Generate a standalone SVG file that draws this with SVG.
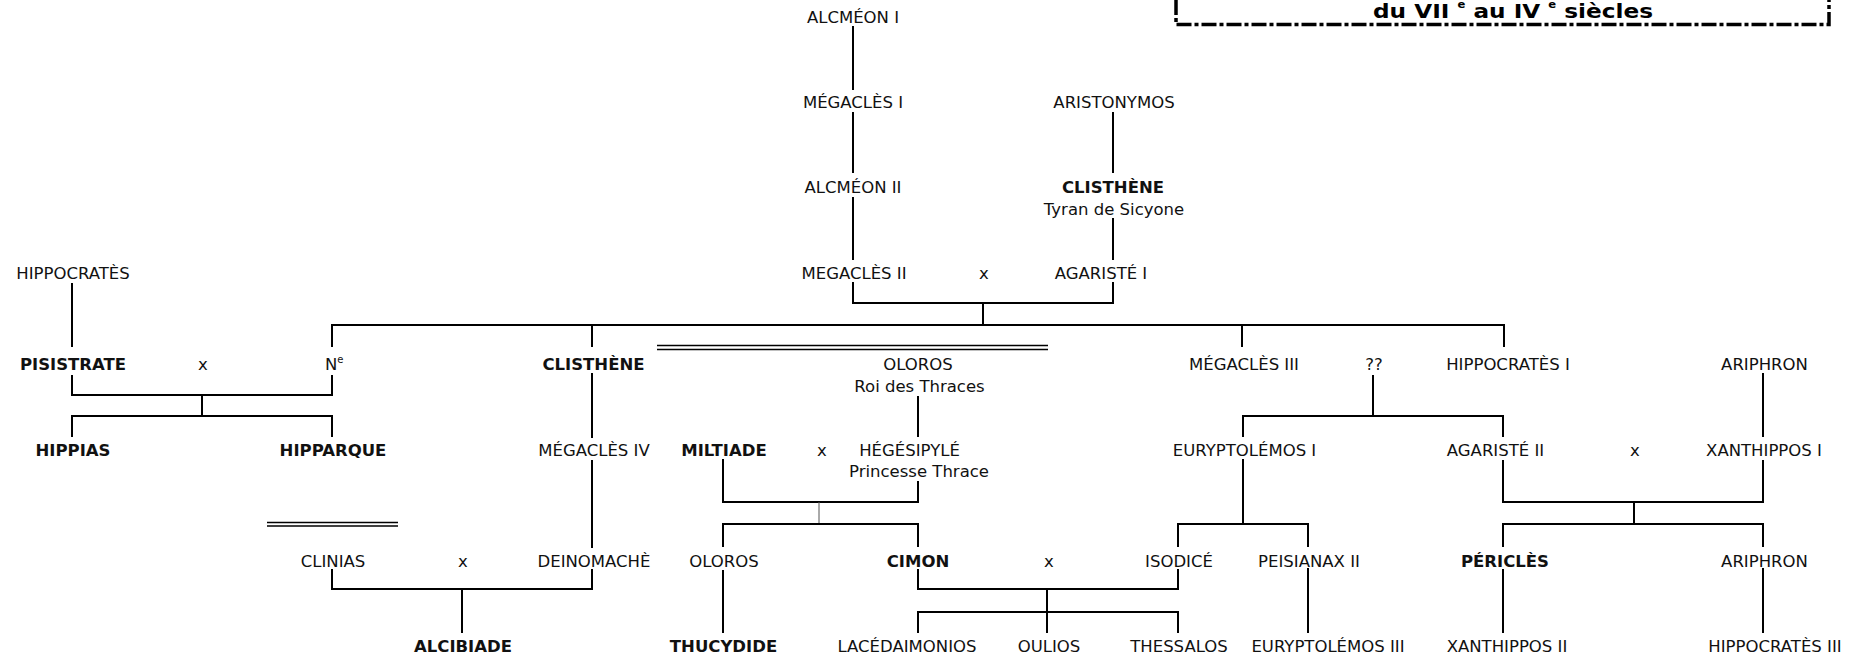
<svg xmlns="http://www.w3.org/2000/svg" width="1866" height="657" viewBox="0 0 1866 657">
<style>
text{font-family:"DejaVu Sans",Verdana,"Liberation Sans",sans-serif;font-size:16.5px;fill:#111;text-anchor:middle}
.b{font-weight:bold}
.t{font-weight:bold;font-size:20px;text-anchor:start;fill:#000}
.s{text-anchor:start}
.c path{fill:none;stroke:#000;stroke-width:2;stroke-linejoin:miter}
.c path.thin{stroke:#555;stroke-width:1}
.c path.dbl{stroke-width:1.5}
</style>
<rect width="1866" height="657" fill="#fff"/>
<g id="title">
<rect x="1176" y="-60" width="653" height="84.5" fill="none" stroke="#000" stroke-width="3.5" stroke-dasharray="15 3 4 3"/>
<text class="t" x="1373" y="17.5" textLength="280" lengthAdjust="spacingAndGlyphs">du VII <tspan dy="-9.5" font-size="10">e</tspan><tspan dy="9.5"> au IV </tspan><tspan dy="-9.5" font-size="10">e</tspan><tspan dy="9.5"> siècles</tspan></text>
</g>
<g class="c" id="connectors">
<path d="M853,26V90"/>
<path d="M853,112V173"/>
<path d="M853,197V260"/>
<path d="M853,282V303H1113V282"/>
<path d="M1113,112V173"/>
<path d="M1113,218V260"/>
<path d="M983,303V325"/>
<path d="M332,347V325H1504V347"/>
<path d="M592,325V347"/>
<path d="M1242,325V347"/>
<path d="M72,283V347"/>
<path d="M72,375V395H332V375"/>
<path d="M202,395V416"/>
<path d="M72,437V416H332V437"/>
<path d="M592,373V438"/>
<path d="M592,460V548"/>
<path d="M918,396V437"/>
<path d="M723,459V502H918V481"/>
<path class="thin" d="M819,502V524"/>
<path d="M723,547V524H918V547"/>
<path d="M1373,375V416"/>
<path d="M1243,437V416H1503V437"/>
<path d="M1763,373V437"/>
<path d="M1243,459V524"/>
<path d="M1178,547V524H1308V547"/>
<path d="M1503,460V502H1763V460"/>
<path d="M1634,502V524"/>
<path d="M1503,547V524H1763V547"/>
<path d="M332,569V589H592V569"/>
<path d="M462,589V633"/>
<path d="M723,570V633"/>
<path d="M918,569V589H1178V569"/>
<path d="M1047,589V633"/>
<path d="M918,633V612H1178V633"/>
<path d="M1308,568V633"/>
<path d="M1503,569V633"/>
<path d="M1763,568V633"/>
<path class="dbl" d="M657,345.5H1048M657,349.5H1048"/>
<path class="dbl" d="M267,522.5H398M267,526H398"/>
</g>
<g id="alcmeon1"><text x="853" y="23">ALCMÉON I</text></g>
<g id="megacles1"><text x="853" y="108">MÉGACLÈS I</text></g>
<g id="aristonymos"><text x="1114" y="108">ARISTONYMOS</text></g>
<g id="alcmeon2"><text x="853" y="193">ALCMÉON II</text></g>
<g id="clisthene-sicyone"><text class="b" x="1113" y="193">CLISTHÈNE</text><text x="1114" y="215">Tyran de Sicyone</text></g>
<g id="hippocrates"><text x="73" y="279">HIPPOCRATÈS</text></g>
<g id="megacles2"><text x="854" y="279">MEGACLÈS II</text></g>
<g id="x1"><text x="984" y="279">x</text></g>
<g id="agariste1"><text x="1101" y="279">AGARISTÉ I</text></g>
<g id="pisistrate"><text class="b" x="73" y="370">PISISTRATE</text></g>
<g id="x2"><text x="203" y="370">x</text></g>
<g id="ne"><text class="s" x="325" y="370">N<tspan dy="-7" font-size="10">e</tspan></text></g>
<g id="clisthene"><text class="b" x="593.5" y="370">CLISTHÈNE</text></g>
<g id="oloros1"><text x="918" y="370">OLOROS</text><text x="919.5" y="392">Roi des Thraces</text></g>
<g id="megacles3"><text x="1244" y="370">MÉGACLÈS III</text></g>
<g id="unknown"><text x="1374" y="370">??</text></g>
<g id="hippocrates1"><text x="1508" y="370">HIPPOCRATÈS I</text></g>
<g id="ariphron1"><text x="1764.5" y="370">ARIPHRON</text></g>
<g id="hippias"><text class="b" x="73" y="456">HIPPIAS</text></g>
<g id="hipparque"><text class="b" x="333" y="456">HIPPARQUE</text></g>
<g id="megacles4"><text x="594" y="456">MÉGACLÈS IV</text></g>
<g id="miltiade"><text class="b" x="724" y="456">MILTIADE</text></g>
<g id="x3"><text x="822" y="456">x</text></g>
<g id="hegesipyle"><text x="909.5" y="456">HÉGÉSIPYLÉ</text><text x="919" y="477">Princesse Thrace</text></g>
<g id="euryptolemos1"><text x="1244.5" y="456">EURYPTOLÉMOS I</text></g>
<g id="agariste2"><text x="1495.5" y="456">AGARISTÉ II</text></g>
<g id="x4"><text x="1635" y="456">x</text></g>
<g id="xanthippos1"><text x="1764" y="456">XANTHIPPOS I</text></g>
<g id="clinias"><text x="333" y="567">CLINIAS</text></g>
<g id="x5"><text x="463" y="567">x</text></g>
<g id="deinomache"><text x="594" y="567">DEINOMACHÈ</text></g>
<g id="oloros2"><text x="724" y="567">OLOROS</text></g>
<g id="cimon"><text class="b" x="918" y="567">CIMON</text></g>
<g id="x6"><text x="1049" y="567">x</text></g>
<g id="isodice"><text x="1179" y="567">ISODICÉ</text></g>
<g id="peisianax2"><text x="1309" y="567">PEISIANAX II</text></g>
<g id="pericles"><text class="b" x="1505" y="567">PÉRICLÈS</text></g>
<g id="ariphron2"><text x="1764.5" y="567">ARIPHRON</text></g>
<g id="alcibiade"><text class="b" x="463" y="652">ALCIBIADE</text></g>
<g id="thucydide"><text class="b" x="723.5" y="652">THUCYDIDE</text></g>
<g id="lacedaimonios"><text x="907" y="652">LACÉDAIMONIOS</text></g>
<g id="oulios"><text x="1049" y="652">OULIOS</text></g>
<g id="thessalos"><text x="1179" y="652">THESSALOS</text></g>
<g id="euryptolemos3"><text x="1328" y="652">EURYPTOLÉMOS III</text></g>
<g id="xanthippos2"><text x="1507" y="652">XANTHIPPOS II</text></g>
<g id="hippocrates3"><text x="1775" y="652">HIPPOCRATÈS III</text></g>
</svg>
